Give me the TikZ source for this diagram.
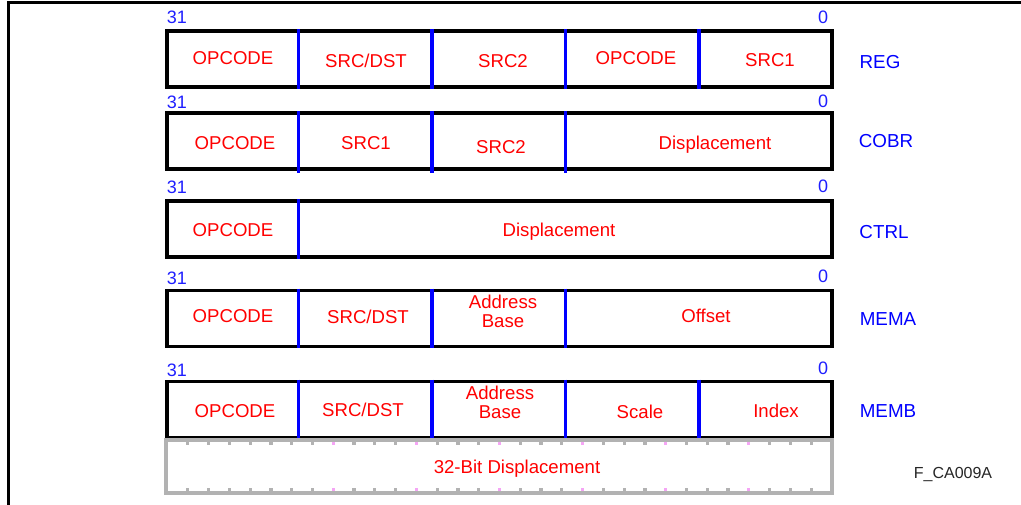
\documentclass[tikz,border=0pt]{standalone}
\usepackage{fontspec}
\setmainfont{Liberation Sans}
\definecolor{fred}{RGB}{255,0,0}
\definecolor{fblue}{RGB}{0,0,255}
\definecolor{lblue}{RGB}{30,30,255}
\definecolor{dgray}{RGB}{178,178,178}
\definecolor{tpink}{RGB}{245,165,245}
\begin{document}
\begin{tikzpicture}[x=1pt,y=-1pt,
  fmtbox/.style={draw=black, line width=3.6pt, minimum width=665pt, minimum height=56pt, inner sep=0pt},
  dispbox/.style={draw=dgray, line width=3.4pt, minimum width=666pt, minimum height=53pt, inner sep=0pt},
  divider/.style={draw=fblue, line width=3.6pt},
  field/.style={text=fred, font=\fontsize{18.6}{19.5}\selectfont, inner sep=0pt, text height=13.3pt, text depth=0pt, align=center},
  bitnum/.style={text=lblue, font=\fontsize{18}{19}\selectfont, inner sep=0pt, text height=12.9pt, text depth=0pt},
  fmtname/.style={text=fblue, font=\fontsize{18.8}{20}\selectfont, inner sep=0pt, text height=13.4pt, text depth=0pt},
  figid/.style={text=black!85, font=\fontsize{16}{18}\selectfont, inner sep=0pt, text height=11.5pt, text depth=0pt},
  frameline/.style={draw=black, line width=2.4pt}]
\useasboundingbox (0,0) rectangle (1021,505);
% outer frame
\coordinate (fbl) at (8.5,505);
\coordinate (ftl) at (8.5,2.5);
\coordinate (ftr) at (1021,2.5);
\draw[frameline] (fbl) -- (ftl) -- (ftr);

% ---------- REG ----------
\node[fmtbox] (reg) at (499.5,59) {};
\foreach \k in {1,...,4}
  \draw[divider] ([xshift=133.4*\k pt]reg.north west) -- ([xshift=133.4*\k pt]reg.south west);
\node[bitnum] (reg31) at (177,17) {31};
\node[bitnum] (reg0) at (823,17) {0};
\node[field] (reg1) at (233,58) {OPCODE};
\node[field] (reg2) at (366,61) {SRC/DST};
\node[field] (reg3) at (503,61) {SRC2};
\node[field] (reg4) at (636,58) {OPCODE};
\node[field] (reg5) at (770,60) {SRC1};
\node[fmtname] (regn) at (880,62) {REG};

% ---------- COBR ----------
\node[fmtbox] (cobr) at (499.5,141) {};
\foreach \k in {1,2,3}
  \draw[divider] ([xshift=133.4*\k pt]cobr.north west) -- ([xshift=133.4*\k pt, yshift=-2pt]cobr.south west);
\node[bitnum] (cobr31) at (177,102) {31};
\node[bitnum] (cobr0) at (823,101) {0};
\node[field] (cobr1) at (235,143) {OPCODE};
\node[field] (cobr2) at (366,143) {SRC1};
\node[field] (cobr3) at (501,147) {SRC2};
\node[field] (cobr4) at (715,143) {Displacement};
\node[fmtname] (cobrn) at (886,141) {COBR};

% ---------- CTRL ----------
\node[fmtbox] (ctrl) at (499.5,229) {};
\draw[divider] ([xshift=133.4pt]ctrl.north west) -- ([xshift=133.4pt]ctrl.south west);
\node[bitnum] (ctrl31) at (177,187) {31};
\node[bitnum] (ctrl0) at (823,186) {0};
\node[field] (ctrl1) at (233,230) {OPCODE};
\node[field] (ctrl2) at (559,230) {Displacement};
\node[fmtname] (ctrln) at (884,232) {CTRL};

% ---------- MEMA ----------
\node[fmtbox] (mema) at (499.5,318.5) {};
\foreach \k in {1,2,3}
  \draw[divider] ([xshift=133.4*\k pt]mema.north west) -- ([xshift=133.4*\k pt]mema.south west);
\node[bitnum] (mema31) at (177,278) {31};
\node[bitnum] (mema0) at (823,276) {0};
\node[field] (mema1) at (233,316) {OPCODE};
\node[field] (mema2) at (368,317) {SRC/DST};
\node[field] (mema3) at (503,321) {Address\\Base};
\node[field] (mema4) at (706,316) {Offset};
\node[fmtname] (meman) at (888,319) {MEMA};

% ---------- MEMB ----------
\node[fmtbox] (memb) at (499.5,409.5) {};
\foreach \k in {1,...,4}
  \draw[divider] ([xshift=133.4*\k pt]memb.north west) -- ([xshift=133.4*\k pt]memb.south west);
\node[bitnum] (memb31) at (177,370) {31};
\node[bitnum] (memb0) at (823,368) {0};
\node[field] (memb1) at (235,411) {OPCODE};
\node[field] (memb2) at (363,410) {SRC/DST};
\node[field] (memb3) at (500,412) {Address\\Base};
\node[field] (memb4) at (640,412) {Scale};
\node[field] (memb5) at (776,411) {Index};
\node[fmtname] (membn) at (888,411) {MEMB};

% ---------- 32-bit displacement ----------
\node[dispbox] (disp) at (499,466.5) {};
\foreach \k in {1,...,31} {
  \fill[dgray] (167+20.78*\k-1.6, 441.5) rectangle +(3.2,3);
  \fill[dgray] (167+20.78*\k-1.6, 488.3) rectangle +(3.2,3);
}
\foreach \k in {8,12,...,28} {
  \fill[tpink] (167+20.78*\k-1.6, 441.5) rectangle +(3.2,3);
  \fill[tpink] (167+20.78*\k-1.6, 488.3) rectangle +(3.2,3);
}
\node[field] (disptext) at (517,467) {32-Bit Displacement};
\node[figid] (figid) at (953,473) {F\_CA009A};
\end{tikzpicture}
\end{document}
